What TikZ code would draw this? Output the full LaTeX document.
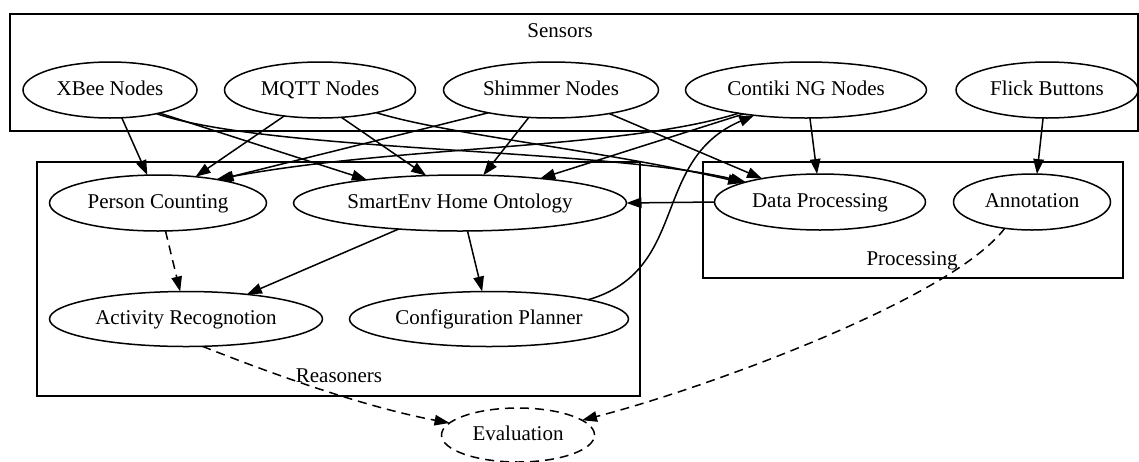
\documentclass[tikz,border=0pt]{standalone}
\usepackage{fontspec}
\setmainfont{Liberation Serif}
\usetikzlibrary{shapes.geometric,arrows.meta}
\begin{document}
\begin{tikzpicture}[x=1pt,y=-1pt,
  every node/.style={font=\fontsize{21}{25}\selectfont,text height=14pt,text depth=4pt},
  nd/.style={ellipse,draw,line width=1.5pt,inner sep=0pt,outer sep=0pt,minimum height=56pt},
  cl/.style={draw,line width=1.5pt},
  ed/.style={line width=1.5pt,-{Triangle[length=15pt,width=10.5pt]}},
  dsh/.style={dash pattern=on 9pt off 6pt}]
\useasboundingbox (0,0) rectangle (1139,461);
% clusters
\draw[cl] (10,14) rectangle (1138,131);
\node (lsens) at (560,32) {Sensors};
\draw[cl] (37,162) rectangle (640,396);
\node (lreas) at (339,377) {Reasoners};
\draw[cl] (703,162) rectangle (1123,278);
\node (lproc) at (912,260) {Processing};
% nodes
\node[nd,minimum width=174pt] (xbee) at (110,90) {XBee Nodes};
\node[nd,minimum width=191pt] (mqtt) at (320,90) {MQTT Nodes};
\node[nd,minimum width=215pt] (shim) at (551,90) {Shimmer Nodes};
\node[nd,minimum width=241pt] (cont) at (806,90) {Contiki NG Nodes};
\node[nd,minimum width=182pt] (flick) at (1047,90) {Flick Buttons};
\node[nd,minimum width=217pt] (pc) at (158,203) {Person Counting};
\node[nd,minimum width=333pt] (se) at (460,203) {SmartEnv Home Ontology};
\node[nd,minimum width=273pt,minimum height=55pt] (ar) at (186,319) {Activity Recognotion};
\node[nd,minimum width=279pt,minimum height=55pt] (cp) at (489,319) {Configuration Planner};
\node[nd,minimum width=211pt] (dp) at (820,202) {Data Processing};
\node[nd,minimum width=157pt] (ann) at (1032,202) {Annotation};
\node[nd,dsh,minimum width=153pt,minimum height=54pt] (ev) at (518,435) {Evaluation};
% edges
\draw[ed] (xbee.-67) -- (pc.111);
\draw[ed] (xbee.-25) -- (se.166);
\draw[ed] (xbee.-27) .. controls (270,152) and (600,148) .. (dp.165);
\draw[ed] (mqtt.-144) -- (pc.35);
\draw[ed] (mqtt.-52) -- (se.141);
\draw[ed] (mqtt.-22) .. controls (450,135) and (600,150) .. (dp.166);
\draw[ed] (shim.-160) -- (pc.21);
\draw[ed] (shim.-129) -- (se.50);
\draw[ed] (shim.-22) -- (dp.158);
\draw[ed] (cont.-161) .. controls (620,150) and (400,145) .. (pc.22);
\draw[ed] (cont.-159) -- (se.17);
\draw[ed] (cont.-82) -- (dp.96);
\draw[ed] (flick.-98) -- (ann.80);
\draw[ed] (dp.180) -- (se.0);
\draw[ed] (se.-157) -- (ar.22);
\draw[ed] (se.-75) -- (cp.104);
\draw[ed,dsh] (pc.-75) -- (ar.102);
\draw[ed] (cp.11) .. controls (690,270) and (650,160) .. (cont.-154);
\draw[ed,dsh] (ar.-59) .. controls (300,385) and (380,410) .. (ev.170);
\draw[ed,dsh] (ann.-136) .. controls (950,300) and (700,390) .. (ev.13);
\end{tikzpicture}
\end{document}
